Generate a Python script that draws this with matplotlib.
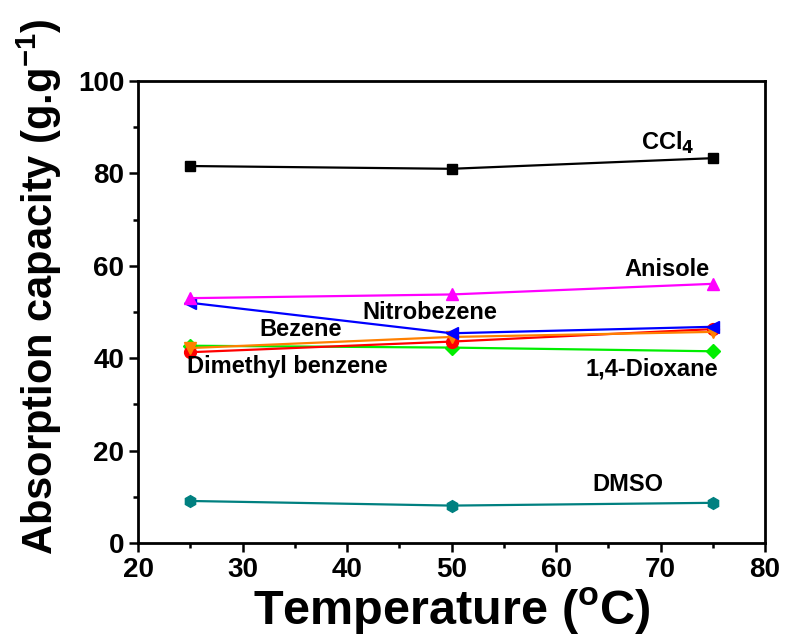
import matplotlib.pyplot as plt
from matplotlib.ticker import MultipleLocator

plt.rcParams["font.family"] = ["Liberation Sans", "DejaVu Sans"]
plt.rcParams["font.weight"] = "bold"
plt.rcParams["mathtext.default"] = "bf"

temperature = [25, 50, 75]

ccl4 = [81.6, 81.0, 83.3]
anisole = [53.0, 53.8, 56.1]
nitrobezene = [52.0, 45.4, 46.8]
bezene = [42.2, 44.6, 45.7]
dimethyl_benzene = [41.3, 43.6, 46.3]
dioxane = [42.7, 42.3, 41.5]
dmso = [9.1, 8.1, 8.7]

# name, values, colour, marker, label position
series = [
    ("DMSO", dmso, "#008080", "h", (66.9, 12.6)),
    ("CCl$_4$", ccl4, "black", "s", (70.7, 86.6)),
    ("1,4-Dioxane", dioxane, "#00ee00", "D", (69.2, 37.7)),
    ("Dimethyl benzene", dimethyl_benzene, "#ff0000", "o", (34.3, 38.1)),
    ("Bezene", bezene, "#ff8000", "v", (35.6, 46.3)),
    ("Nitrobezene", nitrobezene, "#0000ff", "<", (47.9, 50.0)),
    ("Anisole", anisole, "#ff00ff", "^", (70.6, 59.1)),
]

fig = plt.figure(figsize=(7.86, 6.43), dpi=100)
ax = fig.add_axes([0.1756, 0.1555, 0.7977, 0.7185])

for name, values, colour, marker, (tx, ty) in series:
    ms = 7 if marker in ("s", "D") else 8.5
    ax.plot(temperature, values, color=colour, marker=marker, markersize=ms,
            linewidth=1.6)
    ax.text(tx, ty, name, ha="center", va="center", fontsize=17,
            fontweight="bold")

ax.set_xlim(20, 80)
ax.set_ylim(0, 100)
ax.xaxis.set_major_locator(MultipleLocator(10))
ax.xaxis.set_minor_locator(MultipleLocator(5))
ax.yaxis.set_major_locator(MultipleLocator(20))
ax.yaxis.set_minor_locator(MultipleLocator(10))
ax.tick_params(which="both", direction="out", width=1.8, labelsize=20,
               top=False, right=False)
ax.tick_params(which="major", length=6.5)
ax.tick_params(which="minor", length=3.6)
for spine in ax.spines.values():
    spine.set_linewidth(2)

ax.set_xlabel("Temperature ($^{\\mathregular{o}}$C)", fontsize=35,
              fontweight="bold", labelpad=2)
ax.set_ylabel("Absorption capacity (g.g$^{\\mathregular{-1}}$)", fontsize=30,
              fontweight="bold")
ax.yaxis.set_label_coords(-0.118, 0.555)

fig.savefig("out.png", dpi=100)
